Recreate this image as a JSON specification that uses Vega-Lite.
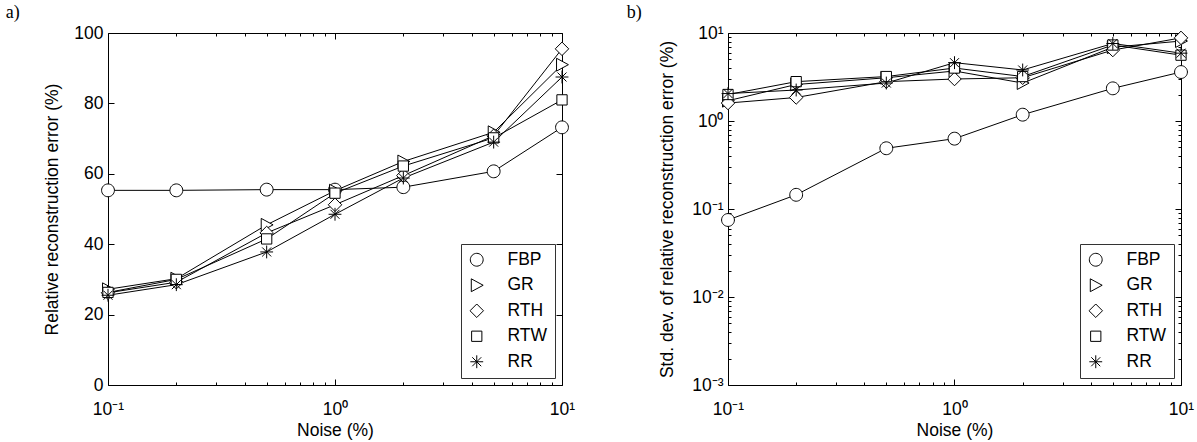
{
  "$schema": "https://vega.github.io/schema/vega-lite/v6.json",
  "padding": {"left": 5, "top": 3, "right": 0, "bottom": 0},
  "config": {
    "font": "Liberation Sans",
    "view": {"stroke": "black", "strokeWidth": 1},
    "axis": {
      "domain": false, "grid": false,
      "labelFont": "Liberation Sans", "labelFontSize": 17.5, "labelColor": "black",
      "titleFont": "Liberation Sans", "titleFontSize": 17.5, "titleFontWeight": "normal", "titleColor": "black",
      "tickColor": "black", "tickWidth": 1, "labelFlush": false, "labelOverlap": false
    },
    "title": {"font": "Liberation Serif", "fontSize": 18, "fontWeight": "normal", "color": "black", "anchor": "start", "frame": "bounds"}
  },
  "datasets": {
    "mean": [
      {"noise": 0.1, "method": "FBP", "value": 55.3},
      {"noise": 0.2, "method": "FBP", "value": 55.3},
      {"noise": 0.5, "method": "FBP", "value": 55.5},
      {"noise": 1, "method": "FBP", "value": 55.5},
      {"noise": 2, "method": "FBP", "value": 56.2},
      {"noise": 5, "method": "FBP", "value": 60.7},
      {"noise": 10, "method": "FBP", "value": 73.2},
      {"noise": 0.1, "method": "GR", "value": 27.2},
      {"noise": 0.2, "method": "GR", "value": 30.2},
      {"noise": 0.5, "method": "GR", "value": 45.5},
      {"noise": 1, "method": "GR", "value": 55.2},
      {"noise": 2, "method": "GR", "value": 63.5},
      {"noise": 5, "method": "GR", "value": 71.8},
      {"noise": 10, "method": "GR", "value": 91.0},
      {"noise": 0.1, "method": "RTH", "value": 26.2},
      {"noise": 0.2, "method": "RTH", "value": 29.2},
      {"noise": 0.5, "method": "RTH", "value": 43.2},
      {"noise": 1, "method": "RTH", "value": 51.2},
      {"noise": 2, "method": "RTH", "value": 59.5},
      {"noise": 5, "method": "RTH", "value": 70.8},
      {"noise": 10, "method": "RTH", "value": 95.5},
      {"noise": 0.1, "method": "RTW", "value": 26.3},
      {"noise": 0.2, "method": "RTW", "value": 30.0},
      {"noise": 0.5, "method": "RTW", "value": 41.5},
      {"noise": 1, "method": "RTW", "value": 54.5},
      {"noise": 2, "method": "RTW", "value": 62.2},
      {"noise": 5, "method": "RTW", "value": 70.2},
      {"noise": 10, "method": "RTW", "value": 81.0},
      {"noise": 0.1, "method": "RR", "value": 25.5},
      {"noise": 0.2, "method": "RR", "value": 28.5},
      {"noise": 0.5, "method": "RR", "value": 37.8},
      {"noise": 1, "method": "RR", "value": 48.5},
      {"noise": 2, "method": "RR", "value": 58.8},
      {"noise": 5, "method": "RR", "value": 69.0},
      {"noise": 10, "method": "RR", "value": 87.5}
    ],
    "std": [
      {"noise": 0.1, "method": "FBP", "value": 0.075},
      {"noise": 0.2, "method": "FBP", "value": 0.145},
      {"noise": 0.5, "method": "FBP", "value": 0.49},
      {"noise": 1, "method": "FBP", "value": 0.63},
      {"noise": 2, "method": "FBP", "value": 1.18},
      {"noise": 5, "method": "FBP", "value": 2.35},
      {"noise": 10, "method": "FBP", "value": 3.6},
      {"noise": 0.1, "method": "GR", "value": 1.7},
      {"noise": 0.2, "method": "GR", "value": 2.6},
      {"noise": 0.5, "method": "GR", "value": 3.1},
      {"noise": 1, "method": "GR", "value": 3.7},
      {"noise": 2, "method": "GR", "value": 2.7},
      {"noise": 5, "method": "GR", "value": 6.9},
      {"noise": 10, "method": "GR", "value": 8.1},
      {"noise": 0.1, "method": "RTH", "value": 1.6},
      {"noise": 0.2, "method": "RTH", "value": 1.85},
      {"noise": 0.5, "method": "RTH", "value": 2.8},
      {"noise": 1, "method": "RTH", "value": 3.0},
      {"noise": 2, "method": "RTH", "value": 3.1},
      {"noise": 5, "method": "RTH", "value": 6.4},
      {"noise": 10, "method": "RTH", "value": 8.8},
      {"noise": 0.1, "method": "RTW", "value": 2.0},
      {"noise": 0.2, "method": "RTW", "value": 2.8},
      {"noise": 0.5, "method": "RTW", "value": 3.2},
      {"noise": 1, "method": "RTW", "value": 4.0},
      {"noise": 2, "method": "RTW", "value": 3.2},
      {"noise": 5, "method": "RTW", "value": 7.3},
      {"noise": 10, "method": "RTW", "value": 5.6},
      {"noise": 0.1, "method": "RR", "value": 2.05},
      {"noise": 0.2, "method": "RR", "value": 2.25},
      {"noise": 0.5, "method": "RR", "value": 2.7},
      {"noise": 1, "method": "RR", "value": 4.6},
      {"noise": 2, "method": "RR", "value": 3.8},
      {"noise": 5, "method": "RR", "value": 7.6},
      {"noise": 10, "method": "RR", "value": 5.9}
    ]
  },
  "hconcat": [
    {
      "width": 454, "height": 352,
      "title": {"text": "a)", "dx": -38, "offset": 2},
      "data": {"name": "mean"},
      "layer": [
        {
          "mark": {"type": "line", "color": "black", "strokeWidth": 1},
          "encoding": {
            "x": {"field": "noise", "type": "quantitative",
              "scale": {"type": "log", "domain": [0.1, 10], "nice": false},
              "axis": {"title": "Noise (%)", "orient": "bottom",
                "values": [0.1,0.2,0.3,0.4,0.5,0.6,0.7,0.8,0.9,1,2,3,4,5,6,7,8,9,10],
                "labelExpr": "datum.value == 0.1 ? '10⁻¹' : datum.value == 1 ? '10⁰' : datum.value == 10 ? '10¹' : ''",
                "tickSize": {"condition": {"test": "datum.value == 0.1 || datum.value == 1 || datum.value == 10", "value": -6}, "value": -3},
                "labelPadding": 21, "titlePadding": 1}},
            "y": {"field": "value", "type": "quantitative",
              "scale": {"domain": [0, 100], "nice": false},
              "axis": {"title": "Relative reconstruction error (%)", "orient": "left",
                "values": [0, 20, 40, 60, 80, 100], "tickSize": -6, "labelPadding": 11, "titlePadding": 12}},
            "detail": {"field": "method"}
          }
        },
        {
          "mark": {"type": "point", "fill": "white", "stroke": "black", "strokeWidth": 1, "opacity": 1, "size": 165},
          "encoding": {
            "x": {"field": "noise", "type": "quantitative", "axis": null},
            "y": {"field": "value", "type": "quantitative", "axis": null},
            "shape": {"field": "method", "type": "nominal",
              "scale": {"domain": ["FBP", "GR", "RTH", "RTW", "RR"],
                "range": ["M1,0A1,1,0,1,1,-1,0A1,1,0,1,1,1,0Z", "M-0.85,-1L1,0L-0.85,1Z", "M0,-1.05L1.05,0L0,1.05L-1.05,0Z", "M-0.8,-0.8L0.8,-0.8L0.8,0.8L-0.8,0.8Z", "M-1,0L1,0M0,-1L0,1M-0.7,-0.7L0.7,0.7M-0.7,0.7L0.7,-0.7"]},
              "legend": {"title": null, "orient": "bottom-right", "offset": 7,
                "strokeColor": "#333", "fillColor": "white", "padding": 7,
                "labelFont": "Liberation Sans", "labelFontSize": 17.5, "labelColor": "black",
                "symbolSize": 165, "symbolStrokeWidth": 1,
                "labelOffset": 22, "rowPadding": 6.5}
            }
          }
        },
        {
          "mark": {"type": "line", "opacity": 0},
          "encoding": {
            "x": {"field": "noise", "type": "quantitative",
              "axis": {"title": null, "orient": "top", "labels": false,
                "values": [0.1,0.2,0.3,0.4,0.5,0.6,0.7,0.8,0.9,1,2,3,4,5,6,7,8,9,10],
                "tickSize": {"condition": {"test": "datum.value == 0.1 || datum.value == 1 || datum.value == 10", "value": -6}, "value": -3}}},
            "y": {"field": "value", "type": "quantitative",
              "axis": {"title": null, "orient": "right", "labels": false, "values": [0, 20, 40, 60, 80, 100], "tickSize": -6}},
            "detail": {"field": "method"}
          }
        }
      ],
      "resolve": {"axis": {"x": "independent", "y": "independent"}}
    },
    {
      "width": 453, "height": 352,
      "title": {"text": "b)", "dx": -32, "offset": 2},
      "data": {"name": "std"},
      "layer": [
        {
          "mark": {"type": "line", "color": "black", "strokeWidth": 1},
          "encoding": {
            "x": {"field": "noise", "type": "quantitative",
              "scale": {"type": "log", "domain": [0.1, 10], "nice": false},
              "axis": {"title": "Noise (%)", "orient": "bottom",
                "values": [0.1,0.2,0.3,0.4,0.5,0.6,0.7,0.8,0.9,1,2,3,4,5,6,7,8,9,10],
                "labelExpr": "datum.value == 0.1 ? '10⁻¹' : datum.value == 1 ? '10⁰' : datum.value == 10 ? '10¹' : ''",
                "tickSize": {"condition": {"test": "datum.value == 0.1 || datum.value == 1 || datum.value == 10", "value": -6}, "value": -3},
                "labelPadding": 21, "titlePadding": 1}},
            "y": {"field": "value", "type": "quantitative",
              "scale": {"type": "log", "domain": [0.001, 10], "nice": false},
              "axis": {"title": "Std. dev. of relative reconstruction error (%)", "orient": "left",
                "values": [0.001,0.002,0.003,0.004,0.005,0.006,0.007,0.008,0.009,0.01,0.02,0.03,0.04,0.05,0.06,0.07,0.08,0.09,0.1,0.2,0.3,0.4,0.5,0.6,0.7,0.8,0.9,1,2,3,4,5,6,7,8,9,10],
                "labelExpr": "datum.value == 0.001 ? '10⁻³' : datum.value == 0.01 ? '10⁻²' : datum.value == 0.1 ? '10⁻¹' : datum.value == 1 ? '10⁰' : datum.value == 10 ? '10¹' : ''",
                "tickSize": {"condition": {"test": "datum.value == 0.001 || datum.value == 0.01 || datum.value == 0.1 || datum.value == 1 || datum.value == 10", "value": -6}, "value": -3},
                "labelPadding": 11, "titlePadding": 15}},
            "detail": {"field": "method"}
          }
        },
        {
          "mark": {"type": "point", "fill": "white", "stroke": "black", "strokeWidth": 1, "opacity": 1, "size": 165},
          "encoding": {
            "x": {"field": "noise", "type": "quantitative", "axis": null},
            "y": {"field": "value", "type": "quantitative", "axis": null},
            "shape": {"field": "method", "type": "nominal",
              "scale": {"domain": ["FBP", "GR", "RTH", "RTW", "RR"],
                "range": ["M1,0A1,1,0,1,1,-1,0A1,1,0,1,1,1,0Z", "M-0.85,-1L1,0L-0.85,1Z", "M0,-1.05L1.05,0L0,1.05L-1.05,0Z", "M-0.8,-0.8L0.8,-0.8L0.8,0.8L-0.8,0.8Z", "M-1,0L1,0M0,-1L0,1M-0.7,-0.7L0.7,0.7M-0.7,0.7L0.7,-0.7"]},
              "legend": {"title": null, "orient": "bottom-right", "offset": 7,
                "strokeColor": "#333", "fillColor": "white", "padding": 7,
                "labelFont": "Liberation Sans", "labelFontSize": 17.5, "labelColor": "black",
                "symbolSize": 165, "symbolStrokeWidth": 1,
                "labelOffset": 22, "rowPadding": 6.5}
            }
          }
        },
        {
          "mark": {"type": "line", "opacity": 0},
          "encoding": {
            "x": {"field": "noise", "type": "quantitative",
              "axis": {"title": null, "orient": "top", "labels": false,
                "values": [0.1,0.2,0.3,0.4,0.5,0.6,0.7,0.8,0.9,1,2,3,4,5,6,7,8,9,10],
                "tickSize": {"condition": {"test": "datum.value == 0.1 || datum.value == 1 || datum.value == 10", "value": -6}, "value": -3}}},
            "y": {"field": "value", "type": "quantitative",
              "axis": {"title": null, "orient": "right", "labels": false,
                "values": [0.001,0.002,0.003,0.004,0.005,0.006,0.007,0.008,0.009,0.01,0.02,0.03,0.04,0.05,0.06,0.07,0.08,0.09,0.1,0.2,0.3,0.4,0.5,0.6,0.7,0.8,0.9,1,2,3,4,5,6,7,8,9,10],
                "tickSize": {"condition": {"test": "datum.value == 0.001 || datum.value == 0.01 || datum.value == 0.1 || datum.value == 1 || datum.value == 10", "value": -6}, "value": -3}}},
            "detail": {"field": "method"}
          }
        }
      ],
      "resolve": {"axis": {"x": "independent", "y": "independent"}}
    }
  ],
  "spacing": 50,
  "resolve": {"scale": {"shape": "independent"}, "legend": {"shape": "independent"}}
}
